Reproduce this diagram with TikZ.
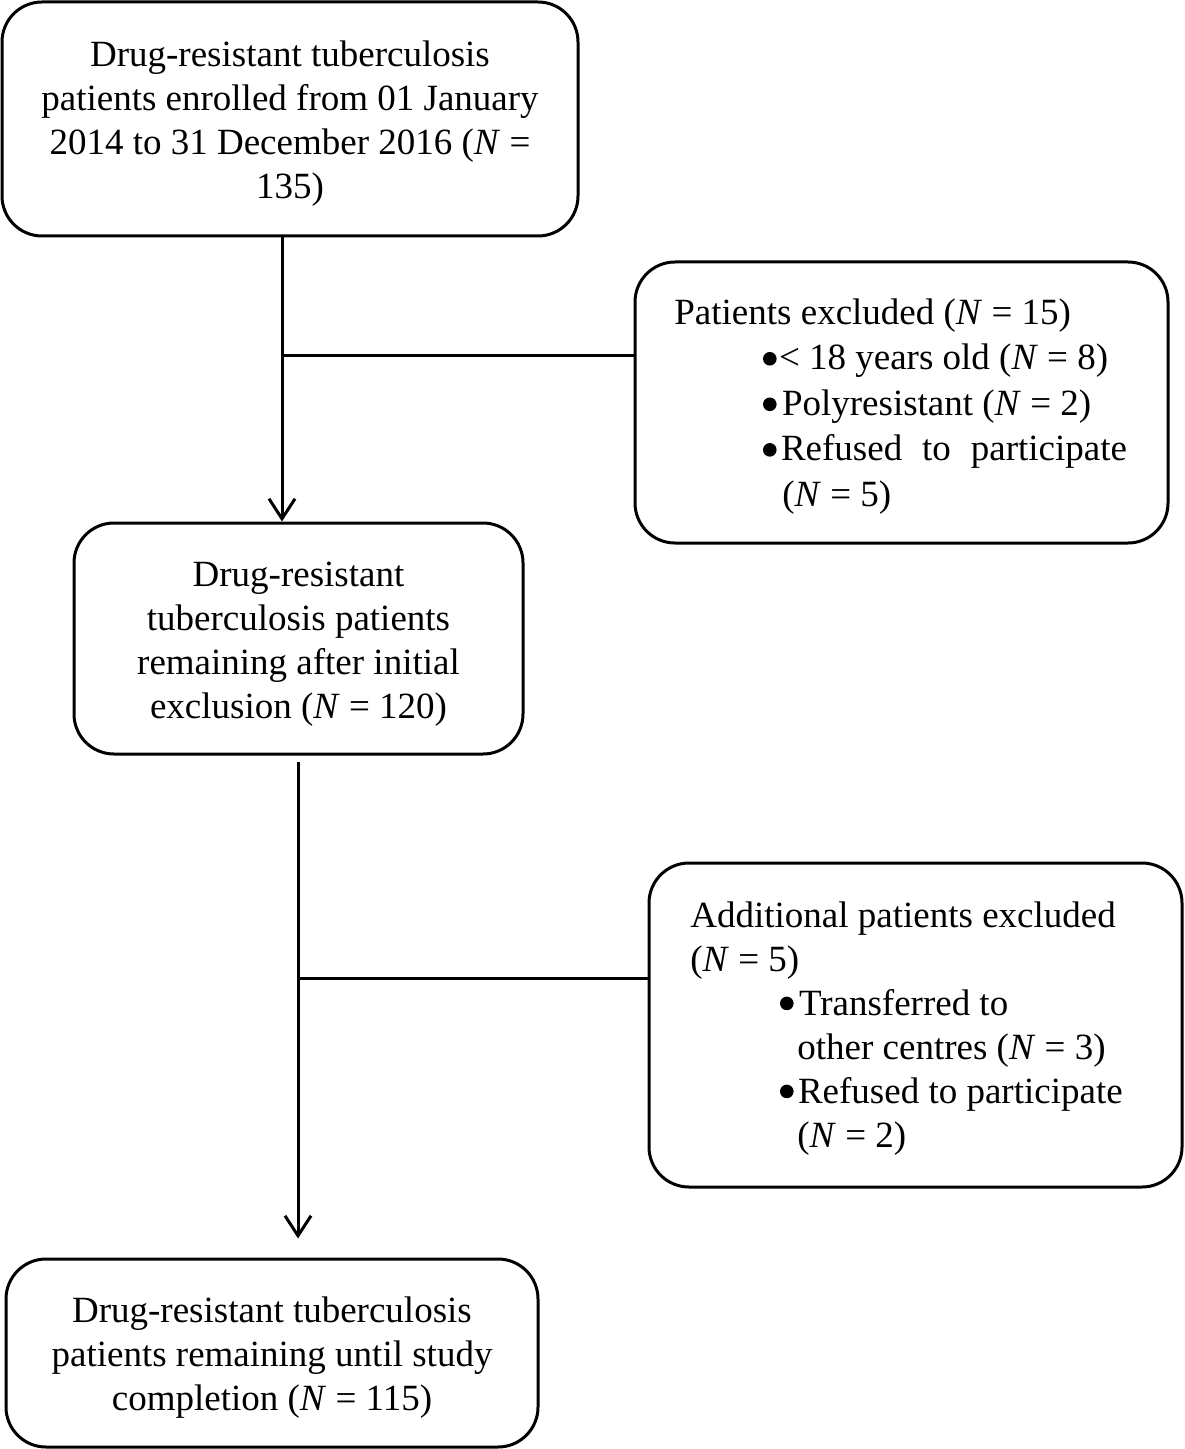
\documentclass[tikz,border=0pt]{standalone}
\usepackage{fontspec}
\setmainfont{Liberation Serif}
\usetikzlibrary{arrows.meta}
\newcommand{\blt}[1][5.4pt]{\tikz[baseline={(0pt,-#1)}]\fill (0pt,0pt) circle (3.4pt);}
\begin{document}
\begin{tikzpicture}[x=0.5pt,y=-0.5pt,
 box/.style={draw, line width=1.5pt, rounded corners=20pt, inner sep=0pt},
 txt/.style={font=\fontsize{18.5}{22}\selectfont, inner sep=0pt, align=center},
 ltxt/.style={font=\fontsize{18.5}{22}\selectfont, inner sep=0pt, anchor=west},
 conn/.style={line width=1.5pt},
 arr/.style={conn, -{Straight Barb[length=10pt,width=13pt]}}]
\useasboundingbox (0,0) rectangle (1184,1449);
% boxes
\node[box, minimum width=288pt, minimum height=117pt] (top) at (290,119) {};
\node[box, minimum width=266.5pt, minimum height=140.5pt] (excl) at (901.5,402.5) {};
\node[box, minimum width=224.5pt, minimum height=115.5pt] (mid) at (298.5,638.5) {};
\node[box, minimum width=266.5pt, minimum height=162pt] (add) at (915.5,1025) {};
\node[box, minimum width=266pt, minimum height=94pt] (bot) at (272,1353) {};
% texts
\node[txt] (ttop) at (290,124) {Drug-resistant tuberculosis\\patients enrolled from 01 January\\2014 to 31 December 2016 (\textit{N} =\\135)};
\node[txt] (tmid) at (298.5,644) {Drug-resistant\\tuberculosis patients\\remaining after initial\\exclusion (\textit{N} = 120)};
\node[txt] (tbot) at (272,1358) {Drug-resistant tuberculosis\\patients remaining until study\\completion (\textit{N} = 115)};
\node[ltxt] (texcl) at (674,406) {\renewcommand{\arraystretch}{1.035}\begin{tabular}{@{}l@{}}
Patients excluded (\textit{N} = 15)\\
\hspace*{44.3pt}\blt\hspace{1.2pt}< 18 years old (\textit{N} = 8)\\
\hspace*{44.3pt}\blt\hspace{2.7pt}Polyresistant (\textit{N} = 2)\\
\hspace*{44.3pt}\blt\hspace{2.2pt}\makebox[173pt][s]{Refused to participate}\\
\hspace*{54pt}(\textit{N} = 5)
\end{tabular}};
\node[ltxt] (tadd) at (690,1029) {\begin{tabular}{@{}l@{}}
Additional patients excluded\\
(\textit{N} = 5)\\
\hspace*{44.8pt}\blt[6.2pt]\hspace{2.7pt}Transferred to\\
\hspace*{53.5pt}other centres (\textit{N} = 3)\\
\hspace*{44.8pt}\blt[6.2pt]\hspace{2.2pt}Refused to participate\\
\hspace*{53.5pt}(\textit{N} = 2)
\end{tabular}};
% connectors
\coordinate (c1) at (282,355);
\coordinate (c2) at (298,978);
\draw[arr] (top.south -| c1) -- (mid.north -| c1);
\draw[conn] (c1) -- (c1 -| excl.west);
\draw[arr, shorten <=3pt, shorten >=9.5pt] (mid.south -| c2) -- (bot.north -| c2);
\draw[conn] (c2) -- (c2 -| add.west);
\end{tikzpicture}
\end{document}
